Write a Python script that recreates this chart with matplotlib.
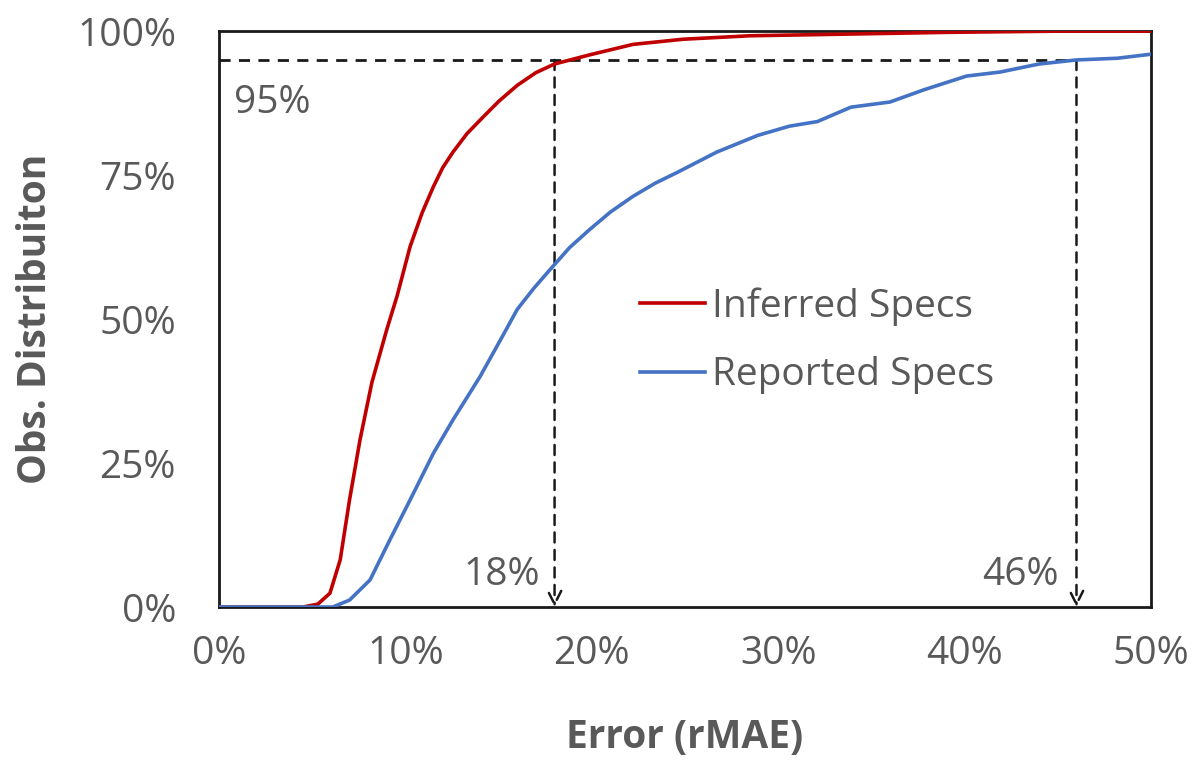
import matplotlib.pyplot as plt
from matplotlib.ticker import FuncFormatter

plt.rcParams['font.family'] = ['Open Sans', 'DejaVu Sans']

# error (rMAE, %) vs cumulative share of observations (%)
inferred_x = [0, 4.5, 5.3, 5.95, 6.5, 7.0, 7.56, 8.2, 9.0, 9.55, 10.25, 10.9, 11.5,
              12.0, 12.55, 13.3, 14.2, 15.0, 16.0, 17.0, 18.0, 19.9, 22.2, 24.9,
              28.5, 33.9, 39.2, 45, 50]
inferred_y = [0, 0, 0.5, 2.4, 8.2, 18.6, 29, 39, 48.2, 54.0, 62.6, 68.5, 73,
              76.3, 79, 82.2, 85.2, 87.8, 90.6, 92.8, 94.3, 95.9, 97.7, 98.6,
              99.2, 99.5, 99.8, 100, 100]

reported_x = [0, 6.1, 7.0, 8.1, 9.17, 10.25, 11.5, 12.55, 14.0, 15.1, 16.0, 16.9,
              17.76, 18.8, 19.9, 21.0, 22.2, 23.4, 24.6, 26.7, 28.9, 30.6, 32.1,
              33.9, 36.0, 37.8, 40.1, 41.9, 44.0, 46.0, 48.2, 50]
reported_y = [0, 0, 1.2, 4.7, 11.7, 18.6, 26.7, 32.5, 40, 46.4, 51.7, 55.4,
              58.6, 62.4, 65.6, 68.6, 71.3, 73.6, 75.5, 79, 81.9, 83.5, 84.3,
              86.8, 87.7, 89.8, 92.2, 92.9, 94.3, 95, 95.3, 96]

level = 95
cut_inferred = 18
cut_reported = 46

grey = '#595959'
fs = 28

fig = plt.figure(figsize=(11.97, 7.6), dpi=100)
ax = fig.add_axes([0.183, 0.2013, 0.7786, 0.7577])

ax.plot(inferred_x, inferred_y, color='#C00000', lw=2.6, label='Inferred Specs',
        zorder=3, solid_joinstyle='round')
ax.plot(reported_x, reported_y, color='#4472C4', lw=2.6, label='Reported Specs',
        zorder=3, solid_joinstyle='round')

# 95% guide and the two cut-offs
ax.plot([0, cut_reported], [level, level], color='#1a1a1a', lw=2.0, ls=(0, (4, 3)), zorder=2)
for cx in (cut_inferred, cut_reported):
    ax.annotate('', xy=(cx, 0), xytext=(cx, level),
                arrowprops=dict(arrowstyle='->', color='#1a1a1a', lw=1.8,
                                linestyle=(0, (4, 3)), mutation_scale=24,
                                shrinkA=0, shrinkB=0), zorder=2)

ax.text(0.8, 87.5, '95%', fontsize=fs, color=grey, va='center', ha='left')
ax.text(cut_inferred - 0.8, 5.5, '18%', fontsize=fs, color=grey, va='center', ha='right')
ax.text(cut_reported - 0.95, 5.5, '46%', fontsize=fs, color=grey, va='center', ha='right')

ax.set_xlim(0, 50)
ax.set_ylim(0, 100)
ax.set_xticks(range(0, 51, 10))
ax.set_yticks(range(0, 101, 25))
pct = FuncFormatter(lambda v, p: f'{v:.0f}%')
ax.xaxis.set_major_formatter(pct)
ax.yaxis.set_major_formatter(pct)
ax.tick_params(length=0, labelsize=fs, labelcolor=grey)
ax.tick_params(axis='x', pad=20)
ax.tick_params(axis='y', pad=31)

for s in ax.spines.values():
    s.set_linewidth(2)
    s.set_color('#1a1a1a')

ax.set_xlabel('Error (rMAE)', fontsize=fs, fontweight='bold', color=grey,
              va='center', ha='center')
ax.set_ylabel('Obs. Distribuiton', fontsize=fs, fontweight='bold', color=grey,
              va='center', ha='center')
ax.xaxis.set_label_coords(0.5, -0.2274)
ax.yaxis.set_label_coords(-0.197, 0.5)

ax.legend(loc='center left', bbox_to_anchor=(0.4517, 0.462), frameon=False, fontsize=fs,
          labelcolor=grey, handlelength=1.67, handletextpad=0.18, labelspacing=0.78,
          borderaxespad=0, borderpad=0)

fig.savefig('out.png', dpi=100)
